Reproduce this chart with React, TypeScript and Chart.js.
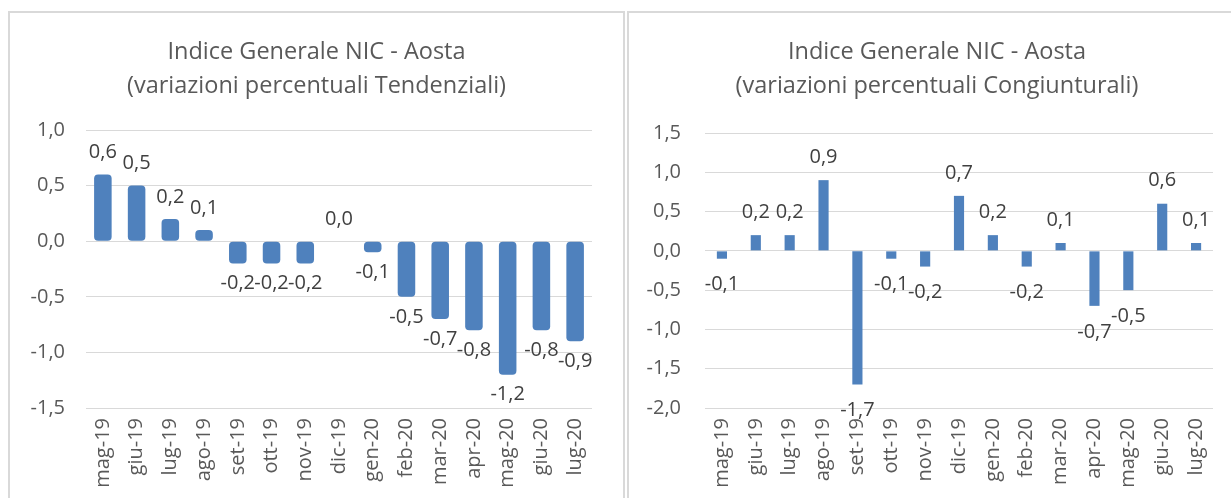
import React, { useEffect, useRef } from "react";
import { Chart, registerables } from "chart.js";

Chart.register(...registerables);

const categories = ["mag-19", "giu-19", "lug-19", "ago-19", "set-19", "ott-19", "nov-19", "dic-19", "gen-20", "feb-20", "mar-20", "apr-20", "mag-20", "giu-20", "lug-20"];
const tendenziali = [0.6, 0.5, 0.2, 0.1, -0.2, -0.2, -0.2, 0.0, -0.1, -0.5, -0.7, -0.8, -1.2, -0.8, -0.9];
const congiunturali = [-0.1, 0.2, 0.2, 0.9, -1.7, -0.1, -0.2, 0.7, 0.2, -0.2, 0.1, -0.7, -0.5, 0.6, 0.1];
const titleTend = ["Indice Generale NIC - Aosta", "(variazioni percentuali Tendenziali)"];
const titleCong = ["Indice Generale NIC - Aosta", "(variazioni percentuali Congiunturali)"];

const FONT = "'Open Sans', Lato, sans-serif";
const BAR = "#4F81BD";
const fmt = (v: number) => v.toFixed(1).replace(".", ",");

const labelPlugin = {
  id: "barLabels",
  afterDatasetsDraw(chart: any, _a: any, opts: any) {
    const ctx = chart.ctx;
    const ds = chart.data.datasets[0];
    const meta = chart.getDatasetMeta(0);
    ctx.save();
    ctx.font = `20px ${FONT}`;
    ctx.fillStyle = "#404040";
    ctx.textAlign = "center";
    ctx.textBaseline = "middle";
    meta.data.forEach((el: any, i: number) => {
      const v = ds.data[i];
      const off = v >= 0 ? opts.offPos : opts.offNeg;
      const y = v >= 0 ? el.y - off : el.y + off;
      ctx.fillText(fmt(v), el.x, y);
    });
    ctx.restore();
  },
};

type Cfg = {
  data: number[];
  title: string[];
  min: number;
  max: number;
  barPct: number;
  radius: number;
  padRight: number;
  titlePadBottom: number;
  tickPad: number;
  offPos: number;
  offNeg: number;
};

function BarChart({ cfg, width, height }: { cfg: Cfg; width: number; height: number }) {
  const ref = useRef<HTMLCanvasElement>(null);
  useEffect(() => {
    if (!ref.current) return;
    const chart = new Chart(ref.current, {
      type: "bar",
      data: {
        labels: categories,
        datasets: [
          {
            data: cfg.data,
            backgroundColor: BAR,
            borderColor: BAR,
            borderWidth: 0,
            borderRadius: cfg.radius,
            borderSkipped: false,
            barPercentage: cfg.barPct,
            categoryPercentage: 1,
          },
        ],
      },
      options: {
        responsive: false,
        animation: false,
        layout: { padding: 0 },
        plugins: {
          legend: { display: false },
          tooltip: { enabled: false },
          title: {
            display: true,
            text: cfg.title,
            color: "#595959",
            font: { family: FONT, size: 23.5, weight: "normal", lineHeight: 34 / 23.5 },
            padding: { top: 22, bottom: cfg.titlePadBottom },
          },
          barLabels: { offPos: cfg.offPos, offNeg: cfg.offNeg },
        } as any,
        scales: {
          x: {
            grid: { display: false, drawTicks: false },
            border: { display: false },
            ticks: {
              color: "#595959",
              font: { family: FONT, size: 20 },
              minRotation: 90,
              maxRotation: 90,
              autoSkip: false,
              padding: 10,
            },
            afterFit: (s: any) => {
              s.height = 90;
            },
          },
          y: {
            min: cfg.min,
            max: cfg.max,
            grid: { color: "#D9D9D9", lineWidth: 1, drawTicks: false },
            border: { display: false },
            ticks: {
              stepSize: 0.5,
              color: "#595959",
              font: { family: FONT, size: 20 },
              padding: cfg.tickPad,
              callback: (v: any) => fmt(Number(v)),
            },
            afterFit: (s: any) => {
              s.width = 76;
            },
          },
          yRight: {
            position: "right",
            display: true,
            min: cfg.min,
            max: cfg.max,
            grid: { display: false, drawTicks: false },
            border: { display: false },
            ticks: { display: false },
            afterFit: (s: any) => {
              s.width = cfg.padRight;
            },
          },
        },
      },
      plugins: [labelPlugin],
    });
    return () => chart.destroy();
  }, []);
  return <canvas ref={ref} width={width} height={height} style={{ display: "block", width, height }} />;
}

const leftCfg: Cfg = {
  data: tendenziali,
  title: titleTend,
  min: -1.5,
  max: 1.0,
  barPct: 0.52,
  radius: 4,
  padRight: 31,
  titlePadBottom: 27,
  tickPad: 21,
  offPos: 22,
  offNeg: 20,
};

const rightCfg: Cfg = {
  data: congiunturali,
  title: titleCong,
  min: -2.0,
  max: 1.5,
  barPct: 0.3,
  radius: 0,
  padRight: 32,
  titlePadBottom: 30,
  tickPad: 24,
  offPos: 23,
  offNeg: 26,
};

export default function App() {
  const panel: React.CSSProperties = {
    position: "absolute",
    top: 11,
    height: 600,
    border: "2px solid #D9D9D9",
    boxSizing: "border-box",
    background: "#fff",
    overflow: "hidden",
  };
  return (
    <div style={{ position: "fixed", left: 0, top: 0, width: 1231, height: 498, background: "#fff", overflow: "hidden" }}>
      <div style={{ ...panel, left: 8, width: 617 }}>
        <BarChart cfg={leftCfg} width={613} height={485} />
      </div>
      <div style={{ ...panel, left: 627, width: 620 }}>
        <BarChart cfg={rightCfg} width={616} height={485} />
      </div>
    </div>
  );
}
